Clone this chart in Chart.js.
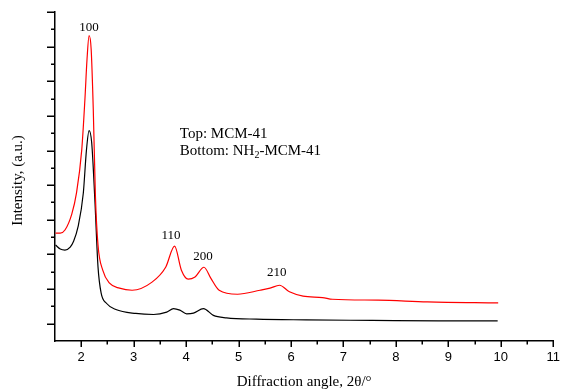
<!DOCTYPE html>
<html><head><meta charset="utf-8">
<script src="https://cdn.jsdelivr.net/npm/chart.js@4"></script>
<style>html,body{margin:0;padding:0;background:#fff}</style>
</head><body>
<canvas id="c" width="569" height="392"></canvas>
<script>
// ---- data ----
const redX = [1.51,1.60,1.69,1.82,1.91,2.01,2.07,2.11,2.15,2.19,2.23,2.27,2.32,2.41,2.54,2.73,2.97,3.35,3.61,3.78,3.91,4.04,4.17,4.34,4.47,4.63,4.98,5.41,5.60,5.78,5.97,6.23,6.60,6.79,7.66,8.60,9.95];
const redY = [523,523,541,633,755,1004,1293,1524,1663,1582,1235,743,454,309,234,205,193,240,326,448,309,257,270,326,263,193,170,193,205,222,184,159,151,141,136,126,120];
const blackX = [1.51,1.60,1.69,1.79,1.85,1.94,2.04,2.10,2.15,2.20,2.26,2.32,2.38,2.48,2.66,3.04,3.38,3.63,3.76,3.88,4.01,4.14,4.33,4.52,4.77,5.34,6.29,7.55,8.82,9.94];
const blackY = [454,431,425,442,473,560,755,1004,1115,1044,714,328,176,118,82,59,53,67,87,78,57,61,87,48,34,26,22,19,16,16];
const xTickValues = [2,3,4,5,6,7,8,9,10,11];
const xTickLabels = ['2','3','4','5','6','7','8','9','10','11'];
const xMinorTicks = [2.5,3.5,4.5,5.5,6.5,7.5,8.5,9.5,10.5];
const yMajorTicks = [0,200,400,600,800,1000,1200,1400,1600,1800];
const yMinorTicks = [100,300,500,700,900,1100,1300,1500,1700];
const peakLabels = ['100','110','200','210'];
const peakLabelX = [2.15,3.71,4.32,5.73];
const peakLabelY = [1688,489,367,274];
const noteLines = ['Top: MCM-41', 'Bottom: NH', '2', '-MCM-41'];
const noteX = 3.88;
const noteY = [1071, 975];
const yTitle = 'Intensity, (a.u.)';

const SERIF = '"Liberation Serif", "Times New Roman", serif';
const SANS = '"Liberation Sans", Arial, sans-serif';

const decor = {
  id: 'decor',
  afterDraw(chart) {
    const {ctx, scales:{x, y}, chartArea} = chart;
    ctx.save();
    ctx.strokeStyle = '#000';
    ctx.lineWidth = 1.5;
    const x0 = x.getPixelForValue(x.min);
    const yb = y.getPixelForValue(y.min);
    ctx.beginPath();
    yMajorTicks.forEach(v => { const p = Math.round(y.getPixelForValue(v)) + 0.25; ctx.moveTo(x0 - 8, p); ctx.lineTo(x0, p); });
    yMinorTicks.forEach(v => { const p = Math.round(y.getPixelForValue(v)) + 0.25; ctx.moveTo(x0 - 4, p); ctx.lineTo(x0, p); });
    xTickValues.forEach(v => { const p = Math.round(x.getPixelForValue(v)) + 0.25; ctx.moveTo(p, yb); ctx.lineTo(p, yb + 6); });
    xMinorTicks.forEach(v => { const p = Math.round(x.getPixelForValue(v)) + 0.25; ctx.moveTo(p, yb); ctx.lineTo(p, yb + 3.5); });
    ctx.stroke();

    ctx.fillStyle = '#000';
    ctx.font = '13px ' + SERIF;
    ctx.textAlign = 'center';
    ctx.textBaseline = 'alphabetic';
    peakLabels.forEach((t, i) => ctx.fillText(t, x.getPixelForValue(peakLabelX[i]), y.getPixelForValue(peakLabelY[i])));

    ctx.textAlign = 'left';
    ctx.font = '15px ' + SERIF;
    const lx = x.getPixelForValue(noteX);
    ctx.fillText(noteLines[0], lx, y.getPixelForValue(noteY[0]));
    const by = y.getPixelForValue(noteY[1]);
    let cx = lx;
    ctx.fillText(noteLines[1], cx, by); cx += ctx.measureText(noteLines[1]).width;
    ctx.font = '10px ' + SERIF;
    ctx.fillText(noteLines[2], cx, by + 3); cx += ctx.measureText(noteLines[2]).width;
    ctx.font = '15px ' + SERIF;
    ctx.fillText(noteLines[3], cx, by);

    // y-axis title (slightly below the centre, as in the reference)
    ctx.save();
    ctx.translate(18, (chartArea.top + chartArea.bottom) / 2 + 4);
    ctx.rotate(-Math.PI / 2);
    ctx.textAlign = 'center';
    ctx.textBaseline = 'middle';
    ctx.font = '15px ' + SERIF;
    ctx.fillText(yTitle, 0, 0);
    ctx.restore();
    ctx.restore();
  }
};

new Chart(document.getElementById('c'), {
  type: 'line',
  data: {
    datasets: [
      { label: 'MCM-41', data: redX.map((v, i) => ({x: v, y: redY[i]})), borderColor: '#ff0000', borderWidth: 1.2, pointRadius: 0, cubicInterpolationMode: 'monotone', fill: false },
      { label: 'NH2-MCM-41', data: blackX.map((v, i) => ({x: v, y: blackY[i]})), borderColor: '#000000', borderWidth: 1.2, pointRadius: 0, cubicInterpolationMode: 'monotone', fill: false }
    ]
  },
  options: {
    responsive: false,
    animation: false,
    events: [],
    layout: { padding: { top: 12, right: 8, bottom: 0, left: 0 } },
    plugins: { legend: { display: false }, tooltip: { enabled: false } },
    scales: {
      x: {
        type: 'linear', min: 1.5, max: 11,
        afterBuildTicks: s => { s.ticks = xTickValues.map(v => ({ value: v })); },
        afterFit: s => { s.height = 51; },
        ticks: { callback: v => xTickLabels[xTickValues.indexOf(v)], color: '#000', font: { family: SANS, size: 13 }, padding: 9, maxRotation: 0, autoSkip: false },
        grid: { display: false, drawTicks: false },
        border: { display: true, color: '#000', width: 1.5 },
        title: { display: true, text: 'Diffraction angle, 2θ/°', color: '#000', font: { family: SERIF, size: 15 }, padding: { top: 0, bottom: 1 } }
      },
      y: {
        type: 'linear', min: -100, max: 1800,
        afterFit: s => { s.width = 55; },
        ticks: { display: false },
        grid: { display: false, drawTicks: false },
        border: { display: true, color: '#000', width: 1.5 },
        title: { display: false }
      }
    }
  },
  plugins: [decor]
});
</script>
</body></html>
